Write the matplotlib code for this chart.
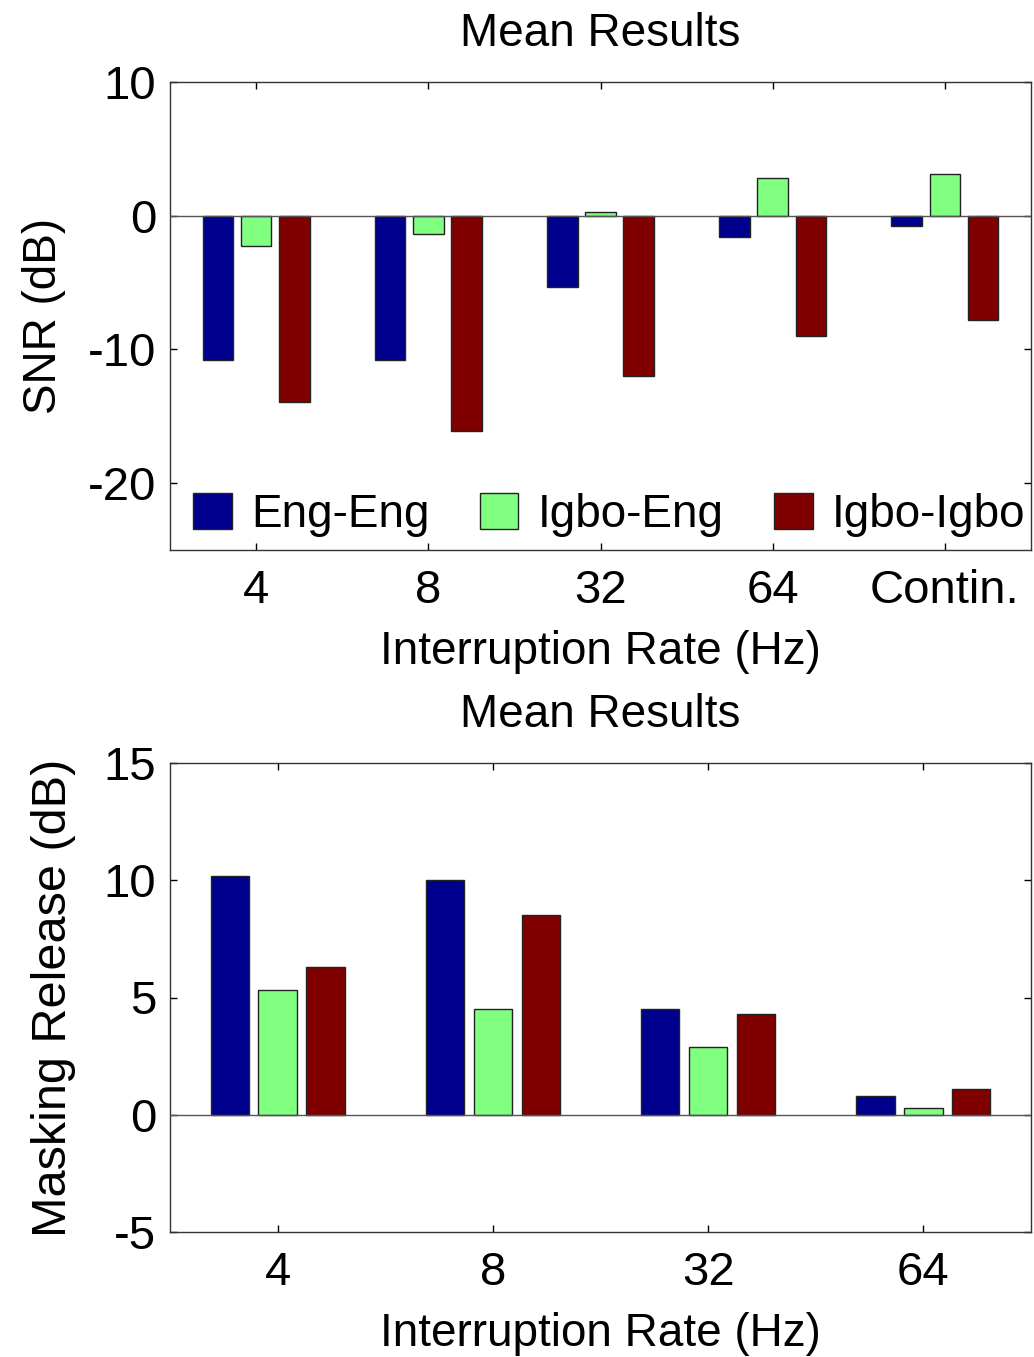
import matplotlib
matplotlib.use("Agg")
import matplotlib.pyplot as plt
import numpy as np

plt.rcParams['font.family'] = ['Liberation Sans', 'DejaVu Sans']
plt.rcParams['axes.unicode_minus'] = False

# ---- data ----
series = ['Eng-Eng', 'Igbo-Eng', 'Igbo-Igbo']
colors = ['#00008F', '#80FF80', '#800000']

snr_labels = ['4', '8', '32', '64', 'Contin.']
snr_eng_eng = [-10.8, -10.8, -5.3, -1.6, -0.8]
snr_igbo_eng = [-2.3, -1.4, 0.3, 2.8, 3.1]
snr_igbo_igbo = [-13.9, -16.1, -12.0, -9.0, -7.8]

mr_labels = ['4', '8', '32', '64']
mr_eng_eng = [10.2, 10.0, 4.5, 0.8]
mr_igbo_eng = [5.3, 4.5, 2.9, 0.3]
mr_igbo_igbo = [6.3, 8.5, 4.3, 1.1]

FS = 33
TFS = 34
W, H = 1034, 1357
fig = plt.figure(figsize=(W / 100, H / 100), dpi=100)

def axpos(top_px, bot_px, left_px=170, right_px=1031):
    return [left_px / W, 1 - bot_px / H, (right_px - left_px) / W, (bot_px - top_px) / H]

def grouped(ax, labels, vals_list):
    x = np.arange(1, len(labels) + 1)
    offsets = [-0.222, 0.0, 0.222]
    handles = []
    for vals, off, c, name in zip(vals_list, offsets, colors, series):
        h = ax.bar(x + off, vals, width=0.178, color=c, edgecolor='#222222',
                   linewidth=1.0, label=name, zorder=2)
        handles.append(h)
    ax.axhline(0, color='#555555', linewidth=1.0, zorder=3)
    ax.set_xticks(x)
    ax.set_xticklabels(labels)
    ax.set_xlim(0.5, len(labels) + 0.5)
    ax.tick_params(direction='in', top=True, right=True, length=5, width=1,
                   labelsize=TFS)
    ax.tick_params(axis='x', pad=14)
    ax.tick_params(axis='y', pad=10)
    for s in ax.spines.values():
        s.set_linewidth(1.0)
        s.set_color('#333333')
    ax.set_xlabel('Interruption Rate (Hz)', fontsize=FS, labelpad=12)
    ax.set_title('Mean Results', fontsize=FS, pad=26)
    return handles

ax1 = fig.add_axes(axpos(82, 550))
grouped(ax1, snr_labels, [snr_eng_eng, snr_igbo_eng, snr_igbo_igbo])
ax1.set_ylim(-25, 10)
ax1.set_yticks([-20, -10, 0, 10])
ax1.set_ylabel('SNR (dB)', fontsize=FS, labelpad=16)
ax1.legend(loc='center left', bbox_to_anchor=(0.027, 0.075), ncol=3,
           frameon=False, fontsize=FS, borderpad=0, borderaxespad=0,
           handlelength=0.84, handleheight=0.82, handletextpad=0.42,
           columnspacing=1.1)

ax2 = fig.add_axes(axpos(763, 1232))
grouped(ax2, mr_labels, [mr_eng_eng, mr_igbo_eng, mr_igbo_igbo])
ax2.set_ylim(-5, 15)
ax2.set_yticks([-5, 0, 5, 10, 15])
ax2.set_ylabel('Masking Release (dB)', fontsize=FS + 2, labelpad=20)

fig.savefig('out.png', dpi=100)
